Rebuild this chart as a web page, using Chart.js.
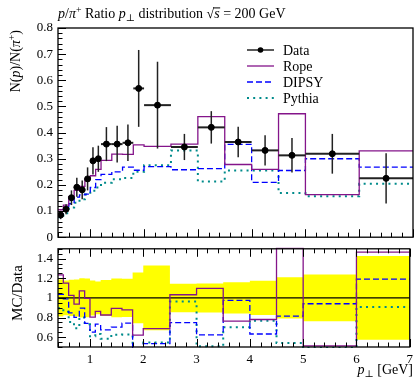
<!DOCTYPE html>
<html lang="en">
<head>
<meta charset="UTF-8">
<title>p/pi+ ratio pT distribution</title>
<script src="https://cdn.jsdelivr.net/npm/chart.js"></script>
<style>
  body { margin: 0; background: #fff; }
  #wrap { position: relative; width: 418px; height: 382px; }
  #main { position: absolute; left: 0; top: 0; }
  #ratio { position: absolute; left: 0; top: 236px; }
</style>
</head>
<body>
<div id="wrap">
  <canvas id="main" width="418" height="250"></canvas>
  <canvas id="ratio" width="418" height="146"></canvas>
</div>

<script>
  // bin edges in pT [GeV]
  const edges = [0.4, 0.5, 0.6, 0.7, 0.8, 0.9, 1.0, 1.1, 1.2, 1.4, 1.6, 1.8, 2.0, 2.5, 3.0, 3.5, 4.0, 4.5, 5.0, 6.0, 7.0];

  const dataVals = [0.085, 0.107, 0.151, 0.191, 0.181, 0.223, 0.292, 0.300, 0.356, 0.356, 0.361, 0.569, 0.505, 0.345, 0.420, 0.364, 0.332, 0.313, 0.319, 0.225];
  const dataErr  = [0.016, 0.019, 0.028, 0.036, 0.036, 0.044, 0.052, 0.050, 0.065, 0.070, 0.070, 0.147, 0.166, 0.050, 0.062, 0.058, 0.058, 0.066, 0.076, 0.096];

  const rope   = [0.105, 0.123, 0.155, 0.179, 0.194, 0.222, 0.235, 0.259, 0.294, 0.318, 0.317, 0.353, 0.347, 0.356, 0.461, 0.278, 0.259, 0.472, 0.163, 0.330];
  const dipsy  = [0.088, 0.106, 0.128, 0.153, 0.162, 0.165, 0.190, 0.220, 0.240, 0.250, 0.268, 0.256, 0.270, 0.258, 0.262, 0.355, 0.210, 0.255, 0.300, 0.268];
  const pythia = [0.076, 0.092, 0.114, 0.132, 0.145, 0.163, 0.178, 0.190, 0.208, 0.222, 0.226, 0.250, 0.275, 0.332, 0.213, 0.255, 0.255, 0.169, 0.157, 0.204];

  const xTicks = [1, 2, 3, 4, 5, 6, 7];
  const mainYTicks  = [0, 0.1, 0.2, 0.3, 0.4, 0.5, 0.6, 0.7, 0.8];
  const mainYLabels = ['0', '0.1', '0.2', '0.3', '0.4', '0.5', '0.6', '0.7', '0.8'];
  const ratioYTicks  = [0.6, 0.8, 1, 1.2, 1.4];
  const ratioYLabels = ['0.6', '0.8', '1', '1.2', '1.4'];

  const SERIF = '"Liberation Serif", "DejaVu Serif", serif';
  const ropeCol = '#84148a', dipsyCol = '#0000ff', pythiaCol = '#008b8b';

  // histogram -> step line points (value of a bin sits on its left edge)
  function histo(vals) {
    const pts = vals.map((v, i) => ({ x: edges[i], y: v }));
    pts.push({ x: edges[edges.length - 1], y: vals[vals.length - 1] });
    return pts;
  }
  const centers = dataVals.map((v, i) => (edges[i] + edges[i + 1]) / 2);
  const ratioOf = vals => vals.map((v, i) => v / dataVals[i]);

  // chart.js 'before' = horizontal at previous y, then vertical
  function stepSet(label, vals, col, dash, w) {
    return { label: label, data: histo(vals), stepped: 'before', borderColor: col, borderWidth: w || 1.3,
             borderDash: dash || [], pointRadius: 0, fill: false, clip: 1 };
  }

  // rich text: parts with italic / sup / sub / overline
  function drawRich(ctx, x, y, parts, size, measureOnly) {
    let cx = x;
    parts.forEach(p => {
      const s = (p.sup || p.sub) ? size * 0.7 : size;
      ctx.font = (p.it ? 'italic ' : '') + s + 'px ' + SERIF;
      const dy = p.sup ? -size * 0.38 : (p.sub ? size * 0.22 : 0);
      const w = ctx.measureText(p.t).width;
      if (!measureOnly) {
        ctx.fillText(p.t, cx, y + dy);
        if (p.over) {
          ctx.lineWidth = 1;
          ctx.beginPath(); ctx.moveTo(cx - 1, y - size * 0.72); ctx.lineTo(cx + w + 0.5, y - size * 0.72); ctx.stroke();
        }
      }
      cx += w;
    });
    return cx - x;
  }

  // frame + inward tick marks
  function frameTicks(cfg) {
    return {
      id: 'frameTicks',
      afterDatasetsDraw(chart) {
        const { ctx, chartArea: a, scales: { x, y } } = chart;
        ctx.save();
        ctx.strokeStyle = '#000';
        ctx.lineWidth = 1;
        ctx.beginPath();
        for (let k = cfg.yK0; k <= cfg.yK1; k++) {
          const len = (k % cfg.yMaj === 0) ? 8 : 4.5;
          const p = Math.round(y.getPixelForValue(k * cfg.yStep)) + 0.5;
          ctx.moveTo(a.left, p); ctx.lineTo(a.left + len, p);
        }
        for (let k = 2; k <= 35; k++) {
          const len = (k % 5 === 0) ? 8 : 4.5;
          const p = Math.round(x.getPixelForValue(k * 0.2)) + 0.5;
          if (cfg.bottom) { ctx.moveTo(p, a.bottom); ctx.lineTo(p, a.bottom - len); }
          if (cfg.top) { ctx.moveTo(p, a.top); ctx.lineTo(p, a.top + len); }
        }
        ctx.stroke();
        ctx.lineWidth = 1.3;
        ctx.strokeRect(a.left, a.top, a.right - a.left, a.bottom - a.top);
        ctx.restore();
      }
    };
  }

  const errPlugin = {
    id: 'errbars',
    beforeDatasetDraw(chart, args) {
      if (chart.data.datasets[args.index].label !== 'Data') return;
      const { ctx, scales: { x, y } } = chart;
      ctx.save();
      ctx.strokeStyle = '#222';
      dataVals.forEach((v, i) => {
        const px = x.getPixelForValue(centers[i]), py = y.getPixelForValue(v);
        ctx.lineWidth = 2;
        ctx.beginPath(); ctx.moveTo(x.getPixelForValue(edges[i]), py); ctx.lineTo(x.getPixelForValue(edges[i + 1]), py); ctx.stroke();
        ctx.lineWidth = 1.5;
        ctx.beginPath(); ctx.moveTo(px, y.getPixelForValue(v - dataErr[i])); ctx.lineTo(px, y.getPixelForValue(v + dataErr[i])); ctx.stroke();
      });
      ctx.restore();
    }
  };

  const mainTextPlugin = {
    id: 'mainText',
    afterDraw(chart) {
      const ctx = chart.ctx;
      ctx.save();
      ctx.fillStyle = '#000'; ctx.strokeStyle = '#000';
      ctx.textBaseline = 'alphabetic'; ctx.textAlign = 'left';
      // title
      drawRich(ctx, 58, 18, [
        { t: 'p', it: 1 }, { t: '/' }, { t: 'π', it: 1 }, { t: '+', sup: 1 }, { t: ' Ratio ' },
        { t: 'p', it: 1 }, { t: '⊥', sub: 1 }, { t: ' distribution ' }, { t: '√' }, { t: 's', it: 1, over: 1 },
        { t: ' = 200 GeV' }
      ], 14);
      // y title (rotated)
      const yParts = [{ t: 'N(' }, { t: 'p', it: 1 }, { t: ')/N(' }, { t: 'π', it: 1 }, { t: '+', sup: 1 }, { t: ')' }];
      ctx.save();
      ctx.translate(20, 30);
      ctx.rotate(-Math.PI / 2);
      const w = drawRich(ctx, 0, 0, yParts, 14, true);
      drawRich(ctx, -w, 0, yParts, 14);
      ctx.restore();
      // legend
      const rows = [
        { label: 'Data', col: '#000', dash: [], w: 1.3, dot: true },
        { label: 'Rope', col: ropeCol, dash: [], w: 1.3 },
        { label: 'DIPSY', col: dipsyCol, dash: [6, 3], w: 1.3 },
        { label: 'Pythia', col: pythiaCol, dash: [2, 4.2], w: 2 }
      ];
      rows.forEach((r, i) => {
        const yy = 50 + i * 16;
        ctx.strokeStyle = r.col; ctx.lineWidth = r.w; ctx.setLineDash(r.dash);
        ctx.beginPath(); ctx.moveTo(247, yy); ctx.lineTo(274, yy); ctx.stroke();
        ctx.setLineDash([]);
        if (r.dot) { ctx.fillStyle = '#000'; ctx.beginPath(); ctx.arc(260.5, yy, 2.8, 0, Math.PI * 2); ctx.fill(); }
        ctx.fillStyle = '#000';
        ctx.font = '14px ' + SERIF;
        ctx.textBaseline = 'middle';
        ctx.fillText(r.label, 283, yy + 1);
        ctx.textBaseline = 'alphabetic';
      });
      ctx.restore();
    }
  };

  const ratioTextPlugin = {
    id: 'ratioText',
    afterDraw(chart) {
      const ctx = chart.ctx;
      ctx.save();
      ctx.fillStyle = '#000'; ctx.strokeStyle = '#000';
      ctx.textBaseline = 'alphabetic'; ctx.textAlign = 'left';
      ctx.save();
      ctx.translate(22, 57);
      ctx.rotate(-Math.PI / 2);
      ctx.font = '15px ' + SERIF;
      ctx.textAlign = 'center';
      ctx.fillText('MC/Data', 0, 0);
      ctx.restore();
      const xParts = [{ t: 'p', it: 1 }, { t: '⊥', sub: 1 }, { t: ' [GeV]' }];
      const w = drawRich(ctx, 0, 0, xParts, 14, true);
      drawRich(ctx, 413 - w, 138, xParts, 14);
      ctx.restore();
    }
  };

  const yAxisBase = {
    afterFit: s => { s.width = 58; },
    grid: { display: false, drawTicks: false },
    border: { display: false },
  };

  new Chart(document.getElementById('main'), {
    type: 'line',
    data: {
      datasets: [
        { label: 'Data', type: 'scatter', data: centers.map((c, i) => ({ x: c, y: dataVals[i] })),
          pointRadius: 3, pointBackgroundColor: '#000', pointBorderColor: '#000', showLine: false },
        stepSet('Rope', rope, ropeCol),
        stepSet('DIPSY', dipsy, dipsyCol, [6, 3]),
        stepSet('Pythia', pythia, pythiaCol, [2, 4.2], 2)
      ]
    },
    options: {
      responsive: false,
      animation: false,
      layout: { autoPadding: false, padding: { top: 28, right: 5, bottom: 9, left: 0 } },
      plugins: { legend: { display: false }, tooltip: { enabled: false } },
      scales: {
        x: { type: 'linear', min: 0.4, max: 7, display: false },
        y: Object.assign({}, yAxisBase, {
          min: 0, max: 0.8,
          afterBuildTicks: s => { s.ticks = mainYTicks.map(v => ({ value: v })); },
          ticks: { padding: 5, color: '#000', font: { family: SERIF, size: 13 }, callback: (v, i) => mainYLabels[i] }
        })
      }
    },
    plugins: [frameTicks({ yK0: 0, yK1: 40, yStep: 0.02, yMaj: 5, bottom: true, top: false }), errPlugin, mainTextPlugin]
  });

  const bandUp = dataVals.map((v, i) => 1 + dataErr[i] / v);
  const bandLo = dataVals.map((v, i) => 1 - dataErr[i] / v);

  new Chart(document.getElementById('ratio'), {
    type: 'line',
    data: {
      datasets: [
        stepSet('Rope', ratioOf(rope), ropeCol),
        stepSet('DIPSY', ratioOf(dipsy), dipsyCol, [6, 3]),
        stepSet('Pythia', ratioOf(pythia), pythiaCol, [2, 4.2], 2),
        { label: 'one', data: [{ x: edges[0], y: 1 }, { x: edges[edges.length - 1], y: 1 }], borderColor: '#000',
          borderWidth: 1.2, pointRadius: 0, fill: false },
        { label: 'bandUp', data: histo(bandUp), stepped: 'before', borderColor: 'rgba(0,0,0,0)', pointRadius: 0,
          backgroundColor: '#ffff00', fill: '+1' },
        { label: 'bandLo', data: histo(bandLo), stepped: 'before', borderColor: 'rgba(0,0,0,0)', pointRadius: 0, fill: false }
      ]
    },
    options: {
      responsive: false,
      animation: false,
      layout: { autoPadding: false, padding: { top: 5, right: 5, bottom: 0, left: 0 } },
      plugins: { legend: { display: false }, tooltip: { enabled: false } },
      scales: {
        x: {
          type: 'linear', min: 0.4, max: 7,
          afterFit: s => { s.height = 35; },
          afterBuildTicks: s => { s.ticks = xTicks.map(v => ({ value: v })); },
          grid: { display: false, drawTicks: false },
          border: { display: false },
          ticks: { padding: 5, color: '#000', maxRotation: 0, font: { family: SERIF, size: 13 }, callback: v => String(v) }
        },
        y: Object.assign({}, yAxisBase, {
          min: 0.5, max: 1.5,
          afterBuildTicks: s => { s.ticks = ratioYTicks.map(v => ({ value: v })); },
          ticks: { padding: 5, color: '#000', font: { family: SERIF, size: 13 }, callback: (v, i) => ratioYLabels[i] }
        })
      }
    },
    plugins: [frameTicks({ yK0: 10, yK1: 30, yStep: 0.05, yMaj: 4, bottom: true, top: true }), ratioTextPlugin]
  });
</script>
</body>
</html>
